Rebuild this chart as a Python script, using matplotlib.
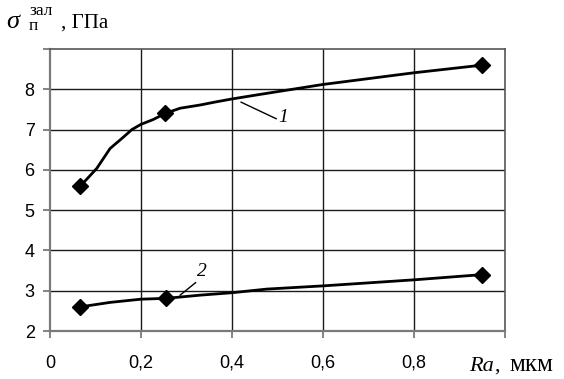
import matplotlib
matplotlib.use("Agg")
import matplotlib.pyplot as plt

# data
x1 = [0.067, 0.103, 0.132, 0.158, 0.18, 0.20, 0.227, 0.253, 0.286, 0.33, 0.366, 0.40, 0.46, 0.60, 0.80, 0.95]
y1 = [5.6, 6.04, 6.53, 6.78, 7.0, 7.13, 7.25, 7.4, 7.53, 7.61, 7.69, 7.76, 7.87, 8.12, 8.41, 8.6]
x2 = [0.067, 0.132, 0.20, 0.255, 0.33, 0.40, 0.476, 0.60, 0.80, 0.95]
y2 = [2.6, 2.71, 2.79, 2.81, 2.89, 2.95, 3.04, 3.12, 3.27, 3.4]
mx1 = [0.067, 0.253, 0.95]
my1 = [5.6, 7.4, 8.6]
mx2 = [0.067, 0.255, 0.95]
my2 = [2.6, 2.81, 3.4]
xticks = [0, 0.2, 0.4, 0.6, 0.8, 1.0]
xticklabels = ["0", "0,2", "0,4", "0,6", "0,8", ""]
yticks = [2, 3, 4, 5, 6, 7, 8, 9]
yticklabels = ["2", "3", "4", "5", "6", "7", "8", ""]

W, H = 564, 379
fig = plt.figure(figsize=(W / 100, H / 100), dpi=100)
L, R, B, T = 50, 505, 331, 49
ax = fig.add_axes([L / W, 1 - B / H, (R - L) / W, (B - T) / H])
ax.set_xlim(0, 1.0)
ax.set_ylim(2, 9)

for v in [0.2, 0.4, 0.6, 0.8]:
    ax.axvline(v, color="#1a1a1a", lw=1.0, zorder=1)
for v in [3, 4, 5, 6, 7, 8]:
    ax.axhline(v, color="#1a1a1a", lw=1.0, zorder=1)

ax.plot(x1, y1, color="black", lw=2.0, zorder=3, solid_joinstyle="round")
ax.plot(x2, y2, color="black", lw=2.0, zorder=3, solid_joinstyle="round")
ax.plot(mx1, my1, ls="none", marker="D", ms=8.5, color="black", zorder=4)
ax.plot(mx2, my2, ls="none", marker="D", ms=8.5, color="black", zorder=4)

for s in ["left", "bottom"]:
    ax.spines[s].set_color("#7a7a7a")
    ax.spines[s].set_linewidth(1.6)
for s in ["top", "right"]:
    ax.spines[s].set_color("#555555")
    ax.spines[s].set_linewidth(1.2)

ax.set_xticks(xticks)
ax.set_xticklabels(xticklabels)
ax.set_yticks(yticks)
ax.set_yticklabels(yticklabels)
ax.tick_params(axis="both", direction="out", length=5, width=1.3, color="#7a7a7a",
               labelsize=13, labelcolor="black")
ax.tick_params(axis="x", pad=12)
ax.tick_params(axis="y", pad=6)
for lab in ax.get_xticklabels() + ax.get_yticklabels():
    lab.set_fontfamily("Liberation Sans")

# curve labels with leader lines
ax.plot([0.42, 0.497], [7.68, 7.27], color="black", lw=1.0, zorder=3)
ax.text(0.512, 7.29, "1", fontsize=14, fontstyle="italic", fontfamily="Liberation Serif",
        ha="center", va="center")
ax.plot([0.286, 0.32], [2.89, 3.2], color="black", lw=1.0, zorder=3)
ax.text(0.334, 3.47, "2", fontsize=14, fontstyle="italic", fontfamily="Liberation Serif",
        ha="center", va="center")

# y-axis label: sigma with sub/superscript
fig.text(6 / W, 1 - 28 / H, "σ", fontsize=19, fontstyle="italic",
         fontfamily="Liberation Serif", ha="left", va="baseline")
fig.text(29 / W, 1 - 15 / H, "зал", fontsize=12.5,
         fontfamily="Liberation Serif", ha="left", va="baseline")
fig.text(29 / W, 1 - 30 / H, "п", fontsize=12.5,
         fontfamily="Liberation Serif", ha="left", va="baseline")
fig.text(61 / W, 1 - 28 / H, ", ГПа", fontsize=15,
         fontfamily="Liberation Serif", ha="left", va="baseline")

# x-axis label
fig.text(469 / W, 1 - 371 / H, "Ra", fontsize=16, fontstyle="italic",
         fontfamily="Liberation Serif", ha="left", va="baseline")
fig.text(494 / W, 1 - 371 / H, ",", fontsize=16,
         fontfamily="Liberation Serif", ha="left", va="baseline")
fig.text(509 / W, 1 - 371 / H, "мкм", fontsize=18,
         fontfamily="Liberation Serif", ha="left", va="baseline")

fig.savefig("out.png", dpi=100)
